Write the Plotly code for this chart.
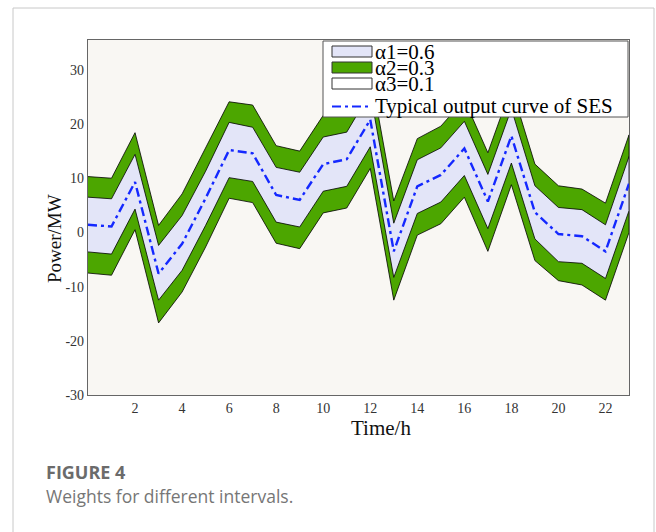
import plotly.graph_objects as go

# ---- data ----
hours = list(range(24))
typical = [1.4, 1.1, 9.3, -7.6, -2.1, 6.3, 15.2, 14.6, 6.9, 6.0, 12.6, 13.5,
           20.8, -3.5, 8.5, 10.6, 15.5, 5.7, 17.8, 3.7, -0.3, -0.7, -3.5, 9.0]
a2_upper = [10.3, 10.0, 18.4, 1.3, 7.1, 15.5, 24.1, 23.5, 16.0, 15.0, 21.6, 22.5,
            29.8, 5.8, 17.3, 19.6, 24.5, 14.7, 26.8, 12.6, 8.6, 8.0, 5.4, 18.0]
a1_upper = [6.5, 6.2, 14.4, -2.4, 3.1, 11.3, 20.3, 19.4, 12.0, 11.1, 17.6, 18.5,
            25.8, 1.7, 13.4, 15.6, 20.5, 10.7, 22.8, 8.6, 4.6, 4.2, 1.4, 14.0]
a1_lower = [-3.6, -4.0, 4.3, -12.5, -7.0, 1.3, 10.1, 9.4, 1.9, 1.0, 7.6, 8.5,
            15.8, -8.3, 3.5, 5.6, 10.5, 0.7, 12.8, -1.2, -5.4, -5.7, -8.5, 4.0]
a2_lower = [-7.5, -7.9, 0.5, -16.7, -11.0, -2.7, 6.3, 5.5, -2.0, -3.0, 3.6, 4.5,
            11.8, -12.5, -0.5, 1.6, 6.5, -3.5, 8.8, -5.2, -8.9, -9.7, -12.5, 0.0]
legend_labels = ["\u03b11=0.6", "\u03b12=0.3", "\u03b13=0.1", "Typical output curve of SES"]
x_ticks = [2, 4, 6, 8, 10, 12, 14, 16, 18, 20, 22]
y_ticks = [-30, -20, -10, 0, 10, 20, 30]
y_tick_text = ["-30", "-20", "-10", "0", "10", "20", "30"]

GREEN = "#4ca600"
LAV = "#e3e5f8"
BG = "#f9f7f3"
SERIF = "Liberation Serif, Times New Roman, serif"

fig = go.Figure()
# alpha2 band (outer)
fig.add_trace(go.Scatter(x=hours + hours[::-1], y=a2_upper + a2_lower[::-1],
                         fill="toself", fillcolor=GREEN, mode="lines",
                         line=dict(color="black", width=0.8), showlegend=False,
                         hoverinfo="skip"))
# alpha1 band (inner)
fig.add_trace(go.Scatter(x=hours + hours[::-1], y=a1_upper + a1_lower[::-1],
                         fill="toself", fillcolor=LAV, mode="lines",
                         line=dict(color="black", width=0.8), showlegend=False,
                         hoverinfo="skip"))
# typical curve
fig.add_trace(go.Scatter(x=hours, y=typical, mode="lines",
                         line=dict(color="#1428ff", width=2.4, dash="9px,4px,3px,4px"),
                         showlegend=False))

# ---- layout geometry ----
W, H = 656, 532
L, R, T, B = 88, 27, 40, 137
pw, ph = W - L - R, H - T - B


def px(x):
    return (x - L) / pw


def py(y):
    return (H - B - y) / ph


shapes = []
annotations = []
# card border
shapes.append(dict(type="rect", xref="paper", yref="paper",
                   x0=px(13), x1=px(654), y0=py(8), y1=py(560),
                   line=dict(color="#c8c8c8", width=1), fillcolor="rgba(0,0,0,0)",
                   layer="below"))
# legend box
shapes.append(dict(type="rect", xref="paper", yref="paper",
                   x0=px(323), x1=px(628), y0=py(41), y1=py(117),
                   line=dict(color="#555", width=1), fillcolor="white", layer="above"))
patch_fill = [LAV, GREEN, "white"]
patch_y = [(46, 57), (62, 73), (78, 89)]
for (y0, y1), fc in zip(patch_y, patch_fill):
    shapes.append(dict(type="rect", xref="paper", yref="paper",
                       x0=px(332), x1=px(372), y0=py(y1), y1=py(y0),
                       line=dict(color="#333", width=1), fillcolor=fc, layer="above"))
shapes.append(dict(type="line", xref="paper", yref="paper",
                   x0=px(332), x1=px(372), y0=py(106.5), y1=py(106.5),
                   line=dict(color="#1428ff", width=2.2, dash="9px,4px,3px,4px"),
                   layer="above"))
row_y = [52, 68, 84, 106]
for lab, yy in zip(legend_labels, row_y):
    annotations.append(dict(xref="paper", yref="paper", x=px(374), y=py(yy),
                            xanchor="left", yanchor="middle", showarrow=False,
                            borderpad=0,
                            text=lab, font=dict(family=SERIF, size=21, color="black")))

# axis titles
annotations.append(dict(xref="paper", yref="paper", x=px(381), y=py(428),
                        xanchor="center", yanchor="middle", showarrow=False,
                        text="Time/h", font=dict(family=SERIF, size=21, color="#111")))
annotations.append(dict(xref="paper", yref="paper", x=px(55), y=py(239),
                        xanchor="center", yanchor="middle", showarrow=False,
                        textangle=-90, text="Power/MW",
                        font=dict(family=SERIF, size=19, color="#111")))
# caption
annotations.append(dict(xref="paper", yref="paper", x=px(44), y=py(472),
                        xanchor="left", yanchor="middle", showarrow=False,
                        text="<b>FIGURE 4</b>",
                        font=dict(family="Open Sans, sans-serif", size=18, color="#6b6b6b")))
annotations.append(dict(xref="paper", yref="paper", x=px(44), y=py(496),
                        xanchor="left", yanchor="middle", showarrow=False,
                        text="Weights for different intervals.",
                        font=dict(family="Open Sans, sans-serif", size=17.5, color="#767676")))

fig.update_layout(
    width=W, height=H,
    margin=dict(l=L, r=R, t=T, b=B),
    paper_bgcolor="white", plot_bgcolor=BG,
    showlegend=False,
    shapes=shapes, annotations=annotations,
    xaxis=dict(range=[0, 23], tickvals=x_ticks, showgrid=False, zeroline=False,
               showline=True, mirror=True, linecolor="#666", linewidth=1.2,
               ticks="", tickfont=dict(family=SERIF, size=14, color="#333")),
    yaxis=dict(range=[-30, 35.5], tickvals=y_ticks, ticktext=y_tick_text,
               showgrid=False, zeroline=False,
               showline=True, mirror=True, linecolor="#666", linewidth=1.2,
               ticks="", tickfont=dict(family=SERIF, size=14, color="#333")),
)

fig.write_html("out.html", config={"displayModeBar": False},
               post_script="document.body.style.margin='0';document.body.style.padding='0';")
